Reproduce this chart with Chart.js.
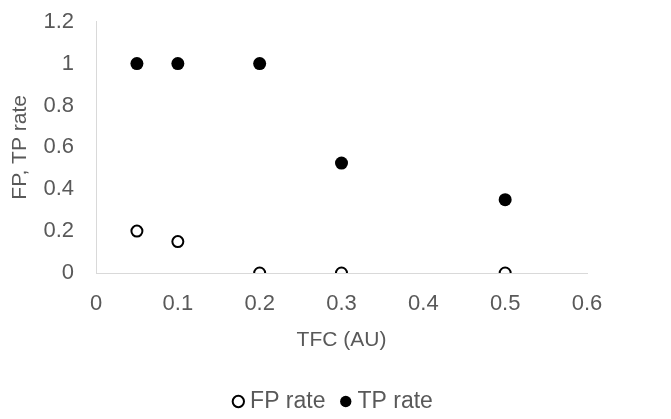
<!DOCTYPE html>
<html>
<head>
<meta charset="utf-8">
<script src="https://cdn.jsdelivr.net/npm/chart.js@4/dist/chart.umd.min.js"></script>
<style>
  html, body { margin: 0; padding: 0; background: #fff; }
  #wrap { width: 671px; height: 419px; }
</style>
</head>
<body>
<div id="wrap"><canvas id="chart" width="671" height="419"></canvas></div>
<script>
// TFC values and detection rates
const fpTfc = [0.05, 0.1, 0.2, 0.3, 0.5];
const fpRate = [0.2, 0.15, 0, 0, 0];
const tpTfc = [0.05, 0.1, 0.2, 0.3, 0.5];
const tpRate = [1, 1, 1, 0.525, 0.35];

const axisColor = '#d9d9d9';
const textColor = '#595959';
const family = "'Liberation Sans', Arial, sans-serif";
const tickFont = { family: family, size: 22, lineHeight: 0.7 };
const titleFont = { family: family, size: 21 };
const legendFont = { family: family, size: 23 };

const toPoints = (xs, ys) => xs.map((x, i) => ({ x: x, y: ys[i] }));
const fmt = v => String(Math.round(v * 10) / 10);

new Chart(document.getElementById('chart'), {
  type: 'scatter',
  data: {
    datasets: [
      {
        label: 'FP rate',
        data: toPoints(fpTfc, fpRate),
        pointRadius: 5.5,
        pointBorderWidth: 2,
        borderWidth: 2,
        borderColor: '#000',
        backgroundColor: '#fff'
      },
      {
        label: 'TP rate',
        data: toPoints(tpTfc, tpRate),
        pointRadius: 6.5,
        pointBorderWidth: 0,
        borderWidth: 0,
        borderColor: '#000',
        backgroundColor: '#000'
      }
    ]
  },
  options: {
    responsive: false,
    animation: false,
    layout: { padding: { left: 0, right: 0, top: 0, bottom: -4 } },
    plugins: {
      tooltip: { enabled: false },
      legend: {
        position: 'bottom',
        labels: {
          usePointStyle: true,
          pointStyle: 'circle',
          boxWidth: 0.5,
          boxHeight: 8,
          padding: 20,
          color: textColor,
          font: legendFont
        }
      }
    },
    scales: {
      x: {
        type: 'linear',
        min: 0,
        max: 0.6,
        ticks: { stepSize: 0.1, color: textColor, font: { family: family, size: 22 }, padding: 10, callback: fmt },
        grid: { display: false },
        border: { display: true, color: axisColor, width: 1 },
        title: { display: true, text: 'TFC (AU)', color: textColor, font: titleFont, padding: { top: 4, bottom: 17 } },
        afterFit: s => { s.height = 97; }
      },
      y: {
        type: 'linear',
        min: 0,
        max: 1.2,
        ticks: { stepSize: 0.2, color: textColor, font: tickFont, padding: 14, callback: fmt },
        grid: { display: false },
        border: { display: true, color: axisColor, width: 1 },
        title: { display: true, text: 'FP, TP rate', color: textColor, font: titleFont, padding: { top: 8, bottom: 4 } },
        afterFit: s => { s.width = 96; }
      },
      // empty right-hand strip so the legend centres on the full width
      side: {
        type: 'linear',
        position: 'right',
        display: true,
        grid: { display: false },
        border: { display: false },
        ticks: { display: false },
        afterFit: s => { s.width = 84; }
      }
    }
  }
});
</script>
</body>
</html>
